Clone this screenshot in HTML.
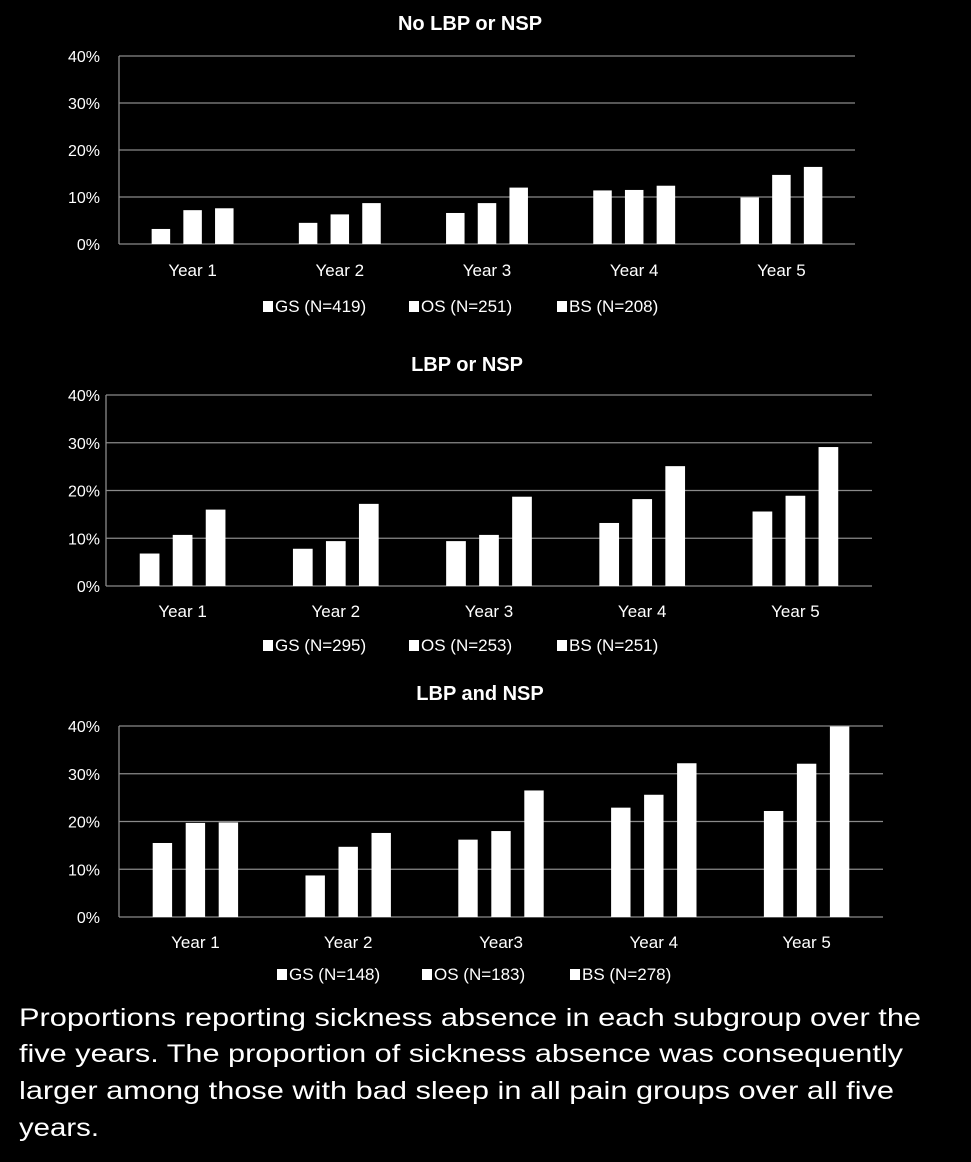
<!DOCTYPE html>
<html><head><meta charset="utf-8"><style>
html,body{margin:0;padding:0;background:#000;}
svg{display:block;}
text{font-family:"Liberation Sans",sans-serif;fill:#fff;}
</style></head><body>
<svg id="root" width="971" height="1162" viewBox="0 0 971 1162">
<g id="charts"></g>
<g font-size="25">
<text x="19" y="1026" textLength="902" lengthAdjust="spacingAndGlyphs">Proportions reporting sickness absence in each subgroup over the</text>
<text x="19" y="1062" textLength="884" lengthAdjust="spacingAndGlyphs">five years. The proportion of sickness absence was consequently</text>
<text x="19" y="1099" textLength="875" lengthAdjust="spacingAndGlyphs">larger among those with bad sleep in all pain groups over all five</text>
<text x="19" y="1136" textLength="80" lengthAdjust="spacingAndGlyphs">years.</text>
</g>
</svg>
<script>
const categories1 = ["Year 1","Year 2","Year 3","Year 4","Year 5"];
const categories3 = ["Year 1","Year 2","Year3","Year 4","Year 5"];
const tickLabels = ["0%","10%","20%","30%","40%"];
const tickValues = [0,10,20,30,40];
const c1GS = [3.2,4.5,6.6,11.4,9.9];
const c1OS = [7.2,6.3,8.7,11.5,14.7];
const c1BS = [7.6,8.7,12.0,12.4,16.4];
const c2GS = [6.8,7.8,9.4,13.2,15.6];
const c2OS = [10.7,9.4,10.7,18.2,18.9];
const c2BS = [16.0,17.2,18.7,25.1,29.1];
const c3GS = [15.5,8.7,16.2,22.9,22.2];
const c3OS = [19.7,14.7,18.0,25.6,32.1];
const c3BS = [19.8,17.6,26.5,32.2,39.9];
const legend1 = ["GS (N=419)","OS (N=251)","BS (N=208)"];
const legend2 = ["GS (N=295)","OS (N=253)","BS (N=251)"];
const legend3 = ["GS (N=148)","OS (N=183)","BS (N=278)"];

const NS="http://www.w3.org/2000/svg";
const host=document.getElementById('charts');
function mk(tag,attrs,parent){const e=document.createElementNS(NS,tag);for(const k in attrs)e.setAttribute(k,attrs[k]);parent.appendChild(e);return e;}

function chart(cfg){
  const g=mk('g',{},host);
  
  
  const {left,right,top,bottom}=cfg;
  const y=v=>bottom-(v/40)*(bottom-top);
  const n=cfg.cats.length;
  const gw=(right-left)/n;
  const x=i=>left+gw*(i+0.5);
  const t=mk('text',{x:(left+right)/2+cfg.titleDx,y:cfg.titleY,'font-size':20,'font-weight':'bold','text-anchor':'middle'},g);
  t.textContent=cfg.title;
  
  
  tickValues.forEach((v,i)=>{
    const l=mk('line',{x1:left,x2:right,y1:y(v),y2:y(v),stroke:'#8a8a8a','stroke-width':1.3},g);
    
    
    const tx=mk('text',{x:100,y:y(v)+6,'font-size':16,'text-anchor':'end'},g);
    tx.textContent=tickLabels[i];
    
    
  });
  const ax=mk('line',{x1:left,x2:left,y1:top,y2:bottom,stroke:'#8a8a8a','stroke-width':1.3},g);
  
  
  const bw=cfg.bw, step=cfg.step;
  const series=[cfg.gs,cfg.os,cfg.bs], sn=['gs','os','bs'];
  cfg.cats.forEach((c,i)=>{
    series.forEach((s,j)=>{
      const cx=x(i)+(j-1)*step;
      const r=mk('rect',{x:cx-bw/2,y:y(s[i]),width:bw,height:bottom-y(s[i]),fill:'#fff'},g);
      
      
    });
    const lt=mk('text',{x:x(i),y:cfg.labelY,'font-size':17,'text-anchor':'middle'},g);
    lt.textContent=c;
    
    
  });
  cfg.legend.forEach((lab,j)=>{
    const lx=cfg.legX[j];
    const sq=mk('rect',{x:lx,y:cfg.legY-11,width:10,height:11,fill:'#fff'},g);
    
    
    const lt=mk('text',{x:lx+12,y:cfg.legY,'font-size':17},g);
    lt.textContent=lab;
    
    
  });
}
chart({name:'chart-no-lbp-or-nsp',title:'No LBP or NSP',titleY:30,titleDx:-17,left:119,right:855,top:56,bottom:244,cats:categories1,gs:c1GS,os:c1OS,bs:c1BS,bw:18.5,step:31.7,labelY:276,legend:legend1,legX:[263,409,557],legY:312});
chart({name:'chart-lbp-or-nsp',title:'LBP or NSP',titleY:371,titleDx:-22,left:106,right:872,top:395,bottom:586,cats:categories1,gs:c2GS,os:c2OS,bs:c2BS,bw:19.7,step:33,labelY:617,legend:legend2,legX:[263,409,557],legY:651});
chart({name:'chart-lbp-and-nsp',title:'LBP and NSP',titleY:700,titleDx:-21,left:119,right:883,top:726,bottom:917,cats:categories3,gs:c3GS,os:c3OS,bs:c3BS,bw:19.4,step:33,labelY:948,legend:legend3,legX:[277,422,570],legY:980});
</script>
</body></html>
